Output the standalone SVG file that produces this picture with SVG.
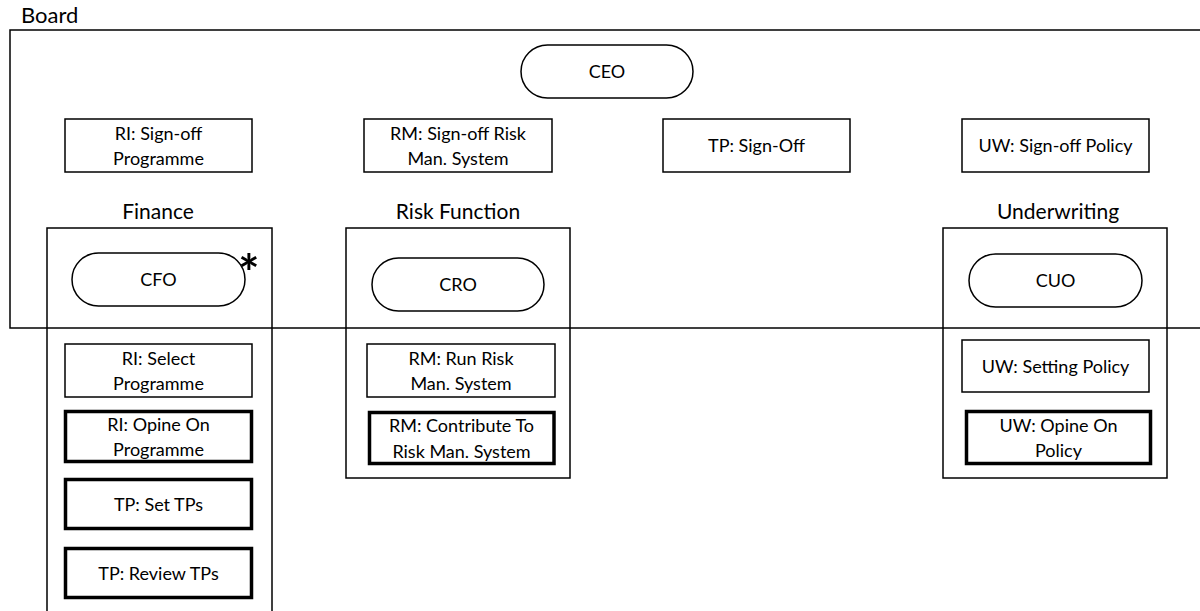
<svg xmlns="http://www.w3.org/2000/svg" width="1200" height="611" viewBox="0 0 1200 611">
<style>
text{font-family:Lato,"Liberation Sans",sans-serif;fill:#000;text-anchor:middle}
.t{font-size:18px}
.h{font-size:21px}
.frame{fill:none;stroke:#000;stroke-width:1.5}
.box{fill:#fff;stroke:#000;stroke-width:1.5}
.thick{fill:#fff;stroke:#000;stroke-width:3.5}
.pill{fill:#fff;stroke:#000;stroke-width:1.5}
</style>
<rect width="1200" height="611" fill="#fff"/>
<g id="board">
<rect class="frame" x="10" y="30" width="1200" height="298"/>
<text x="21" y="23" style="font-size:22px;text-anchor:start">Board</text>
</g>
<g id="finance">
<rect class="frame" x="47" y="228" width="225" height="400"/>
<text class="h" x="158" y="219">Finance</text>
</g>
<g id="risk">
<rect class="frame" x="346" y="228" width="224" height="250"/>
<text class="h" x="458" y="219">Risk Function</text>
</g>
<g id="underwriting">
<rect class="frame" x="943" y="228" width="224" height="250"/>
<text class="h" x="1058" y="219">Underwriting</text>
</g>
<g id="ceo"><rect class="pill" x="521" y="45" width="172" height="53" rx="26.5"/><text class="t" x="607" y="78">CEO</text></g>
<g id="ri-signoff"><rect class="box" x="65" y="119" width="187" height="53"/><text class="t" x="158.5" y="139.5">RI: Sign-off</text><text class="t" x="158.5" y="165">Programme</text></g>
<g id="rm-signoff"><rect class="box" x="364" y="119" width="188" height="53"/><text class="t" x="458" y="139.5">RM: Sign-off Risk</text><text class="t" x="458" y="165">Man. System</text></g>
<g id="tp-signoff"><rect class="box" x="663" y="119" width="187" height="53"/><text class="t" x="756.5" y="152">TP: Sign-Off</text></g>
<g id="uw-signoff"><rect class="box" x="962" y="119" width="187" height="53"/><text class="t" x="1055.5" y="152">UW: Sign-off Policy</text></g>
<g id="cfo"><rect class="pill" x="72" y="253" width="173" height="53" rx="26.5"/><text class="t" x="158.5" y="286">CFO</text><text x="249" y="291" style="font-size:50px;font-weight:700">*</text></g>
<g id="cro"><rect class="pill" x="372" y="258" width="172" height="53" rx="26.5"/><text class="t" x="458" y="291">CRO</text></g>
<g id="cuo"><rect class="pill" x="969" y="254" width="173" height="53" rx="26.5"/><text class="t" x="1055.5" y="287">CUO</text></g>
<g id="ri-select"><rect class="box" x="65" y="344" width="187" height="53"/><text class="t" x="158.5" y="364.5">RI: Select</text><text class="t" x="158.5" y="390">Programme</text></g>
<g id="ri-opine"><rect class="thick" x="65.5" y="411.5" width="186" height="50"/><text class="t" x="158.5" y="430.5">RI: Opine On</text><text class="t" x="158.5" y="456">Programme</text></g>
<g id="tp-set"><rect class="thick" x="65.5" y="479.5" width="186" height="49"/><text class="t" x="158.5" y="510.5">TP: Set TPs</text></g>
<g id="tp-review"><rect class="thick" x="65.5" y="548.5" width="186" height="49"/><text class="t" x="158.5" y="579.5">TP: Review TPs</text></g>
<g id="rm-run"><rect class="box" x="367" y="344" width="188" height="53"/><text class="t" x="461" y="364.5">RM: Run Risk</text><text class="t" x="461" y="390">Man. System</text></g>
<g id="rm-contribute"><rect class="thick" x="369.5" y="412.5" width="184.5" height="51"/><text class="t" x="461.5" y="432">RM: Contribute To</text><text class="t" x="461.5" y="457.5">Risk Man. System</text></g>
<g id="uw-setting"><rect class="box" x="962" y="340" width="187" height="52"/><text class="t" x="1055.5" y="372.5">UW: Setting Policy</text></g>
<g id="uw-opine"><rect class="thick" x="966.5" y="411.5" width="184" height="52"/><text class="t" x="1058.5" y="431.5">UW: Opine On</text><text class="t" x="1058.5" y="457">Policy</text></g>
<g id="connectors"/>
</svg>
